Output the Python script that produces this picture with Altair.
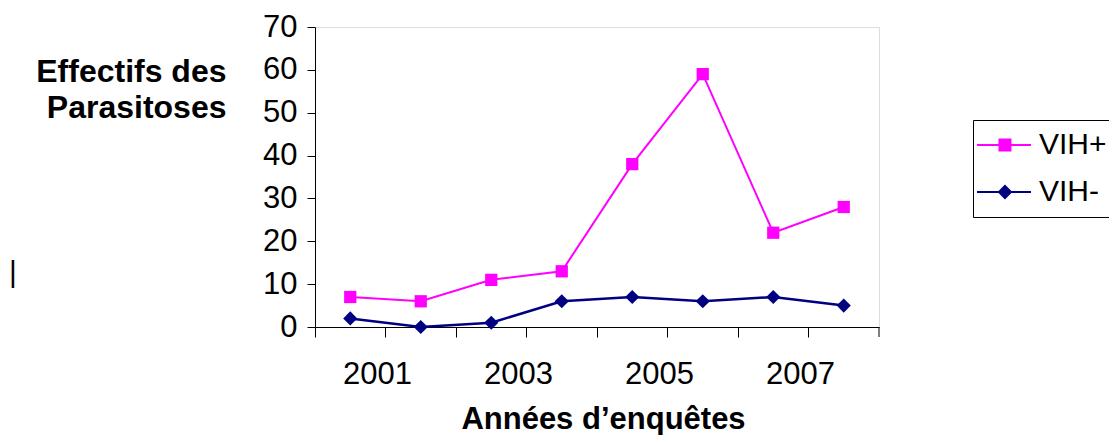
import altair as alt
import pandas as pd

# ---- data ----
YEARS = [2000, 2001, 2002, 2003, 2004, 2005, 2006, 2007]
VIH_POS = [7, 6, 11, 13, 38, 59, 22, 28]
VIH_NEG = [2, 0, 1, 6, 7, 6, 7, 5]
SERIES = ["VIH+", "VIH-"]
COLORS = ["#FF00FF", "#000080"]
SHAPES = ["square", "diamond"]
Y_TICKS = [0, 10, 20, 30, 40, 50, 60, 70]
LABELLED_YEARS = [2001, 2003, 2005, 2007]
Y_TITLE = ["Effectifs des", "Parasitoses"]
X_TITLE = "Années d\u2019enquêtes"
STRAY = ["|"]

# legend symbols: line segment with the marker on it
LEGEND_PATHS = [
    "M-1.75,-0.08H2.75V0.08H-1.75Z M0.04,-0.54H1.12V0.54H0.04Z",
    "M-1.75,-0.09H2.75V0.09H-1.75Z M0.58,-0.62L1.2,0L0.58,0.62L-0.04,0Z",
]

rows = []
for s, vals in zip(SERIES, [VIH_POS, VIH_NEG]):
    for yr, v in zip(YEARS, vals):
        rows.append({"year": yr, "value": v, "series": s})
df = pd.DataFrame(rows)

FONT = "Liberation Sans"
W, H = 564, 300
BAND = W / len(YEARS)

label_expr = "indexof([" + ",".join(str(y) for y in LABELLED_YEARS) + "], datum.value) >= 0 ? datum.label : ''"

x_enc = alt.X(
    "year:O",
    scale=alt.Scale(type="band", paddingInner=0, paddingOuter=0, domain=YEARS),
    axis=alt.Axis(
        title=X_TITLE,
        bandPosition=0,
        labelExpr=label_expr,
        labelAngle=0,
        labelOverlap=False,
        labelBound=False,
        labelFontSize=31,
        labelFont=FONT,
        labelColor="black",
        labelPadding=22,
        labelOffset=-8 - BAND / 2,
        tickSize=10,
        tickColor="black",
        domainColor="black",
        titleFont=FONT,
        titleFontSize=31,
        titleFontWeight="bold",
        titleColor="black",
        titleBaseline="alphabetic",
        titleY=101,
        titleX=288,
        grid=False,
    ),
)

y_enc = alt.Y(
    "value:Q",
    scale=alt.Scale(domain=[Y_TICKS[0], Y_TICKS[-1]], nice=False),
    axis=alt.Axis(
        title=Y_TITLE,
        values=Y_TICKS,
        grid=False,
        labelFontSize=31,
        labelFont=FONT,
        labelColor="black",
        labelPadding=10,
        tickSize=8,
        tickColor="black",
        domainColor="black",
        titleFont=FONT,
        titleFontSize=32,
        titleFontWeight="bold",
        titleColor="black",
        titleAngle=0,
        titleAlign="right",
        titleBaseline="alphabetic",
        titleX=-89,
        titleY=54,
        titleLineHeight=36,
    ),
)

layers = []
for s, c, shp, sw, sz in zip(SERIES, COLORS, SHAPES, [2, 2.5], [150, 200]):
    base = alt.Chart(df).transform_filter(alt.datum.series == s)
    layers.append(base.mark_line(color=c, strokeWidth=sw).encode(x=x_enc, y=y_enc))
    layers.append(
        base.mark_point(filled=True, opacity=1, color=c, shape=shp, size=sz).encode(x=x_enc, y=y_enc)
    )

legend = alt.Legend(
    title=None,
    orient="none",
    legendX=658,
    legendY=93,
    strokeColor="black",
    fillColor="white",
    padding=10,
    symbolSize=576,
    symbolStrokeWidth=0,
    labelFontSize=30,
    labelFont=FONT,
    labelColor="black",
    labelOffset=26,
    rowPadding=17,
    labelLimit=400,
)

ghost = (
    alt.Chart(df)
    .transform_filter("false")
    .mark_point(filled=True, opacity=1, size=576)
    .encode(
        color=alt.Color("series:N", scale=alt.Scale(domain=SERIES, range=COLORS), legend=legend),
        shape=alt.Shape("series:N", scale=alt.Scale(domain=SERIES, range=LEGEND_PATHS), legend=legend),
    )
)

stray = (
    alt.Chart(pd.DataFrame({"t": STRAY}))
    .mark_text(fontSize=30, font=FONT, color="black", baseline="middle", align="center")
    .encode(text="t:N", x=alt.value(-302), y=alt.value(246))
)

x_end_tick = (
    alt.Chart(pd.DataFrame({"t": STRAY}))
    .mark_rule(color="black", strokeWidth=1)
    .encode(x=alt.value(W), y=alt.value(H), y2=alt.value(H + 10))
)

chart = (
    alt.layer(*layers, ghost, stray, x_end_tick)
    .properties(
        width=W,
        height=H,
        padding={"left": 307, "top": 19, "right": 230, "bottom": 108},
        autosize=alt.AutoSizeParams(type="none"),
    )
    .configure_view(stroke=None)
    .configure(background="white")
)

chart.save("out.html", embed_options={"renderer": "svg", "actions": False})
